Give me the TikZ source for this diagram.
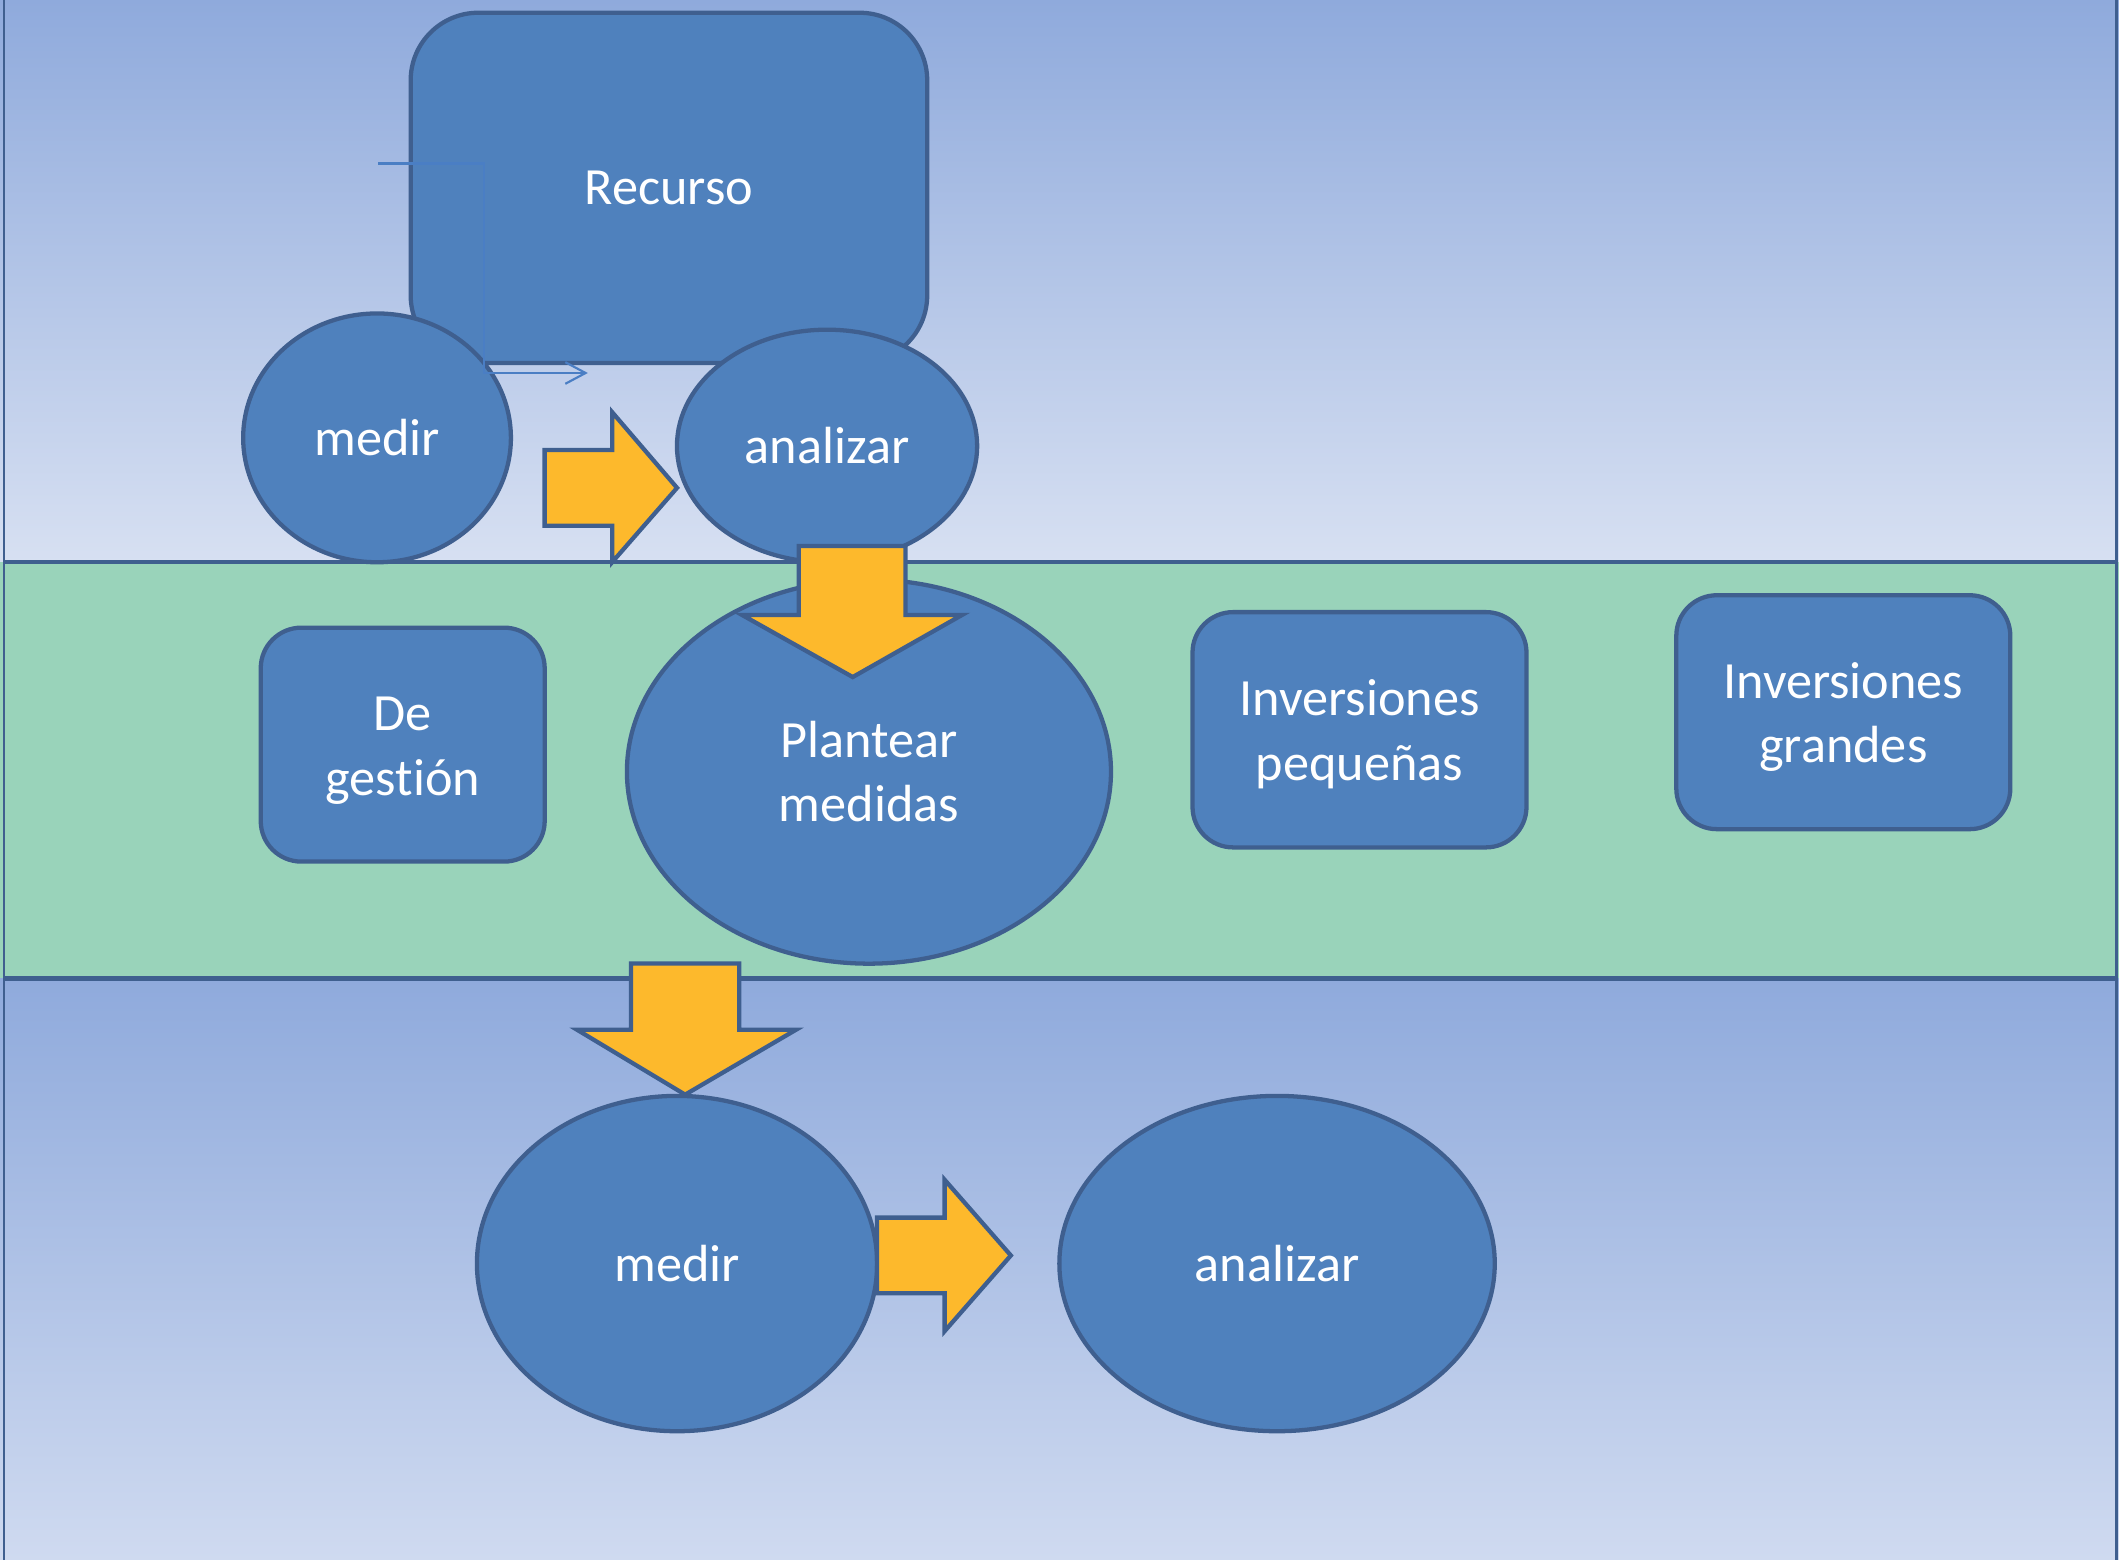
\documentclass[tikz,border=0pt]{standalone}
\usepackage{fontspec}
\setmainfont{Carlito}[Ligatures={NoCommon}]
\usetikzlibrary{shapes.geometric,arrows.meta}
\definecolor{azul}{HTML}{4F81BD}
\definecolor{borde}{HTML}{3F5F8F}
\definecolor{amarillo}{HTML}{FDB92C}
\definecolor{verde}{HTML}{99D3BA}
\definecolor{cieloA}{HTML}{8FAADC}
\definecolor{cieloB}{HTML}{D7E0F2}
\definecolor{cieloC}{HTML}{CFDAF0}
\definecolor{conec}{HTML}{4A7EC4}
\begin{document}
\begin{tikzpicture}[x=0.01cm,y=-0.01cm,
    elipse/.style={ellipse,draw=borde,fill=azul,line width=0.9pt,inner sep=0pt,
        text=white,align=center,font=\fontsize{11}{13.6}\selectfont},
    caja/.style={rectangle,rounded corners=0.3cm,draw=borde,fill=azul,line width=0.9pt,
        inner sep=0pt,text=white,align=center,font=\fontsize{11}{13.6}\selectfont},
    flecha/.style={draw=borde,fill=amarillo,line width=0.9pt,line join=miter},
    linea/.style={draw=borde,line width=0.9pt}]
    \useasboundingbox (0,0) rectangle (1568,1154);
    \shade[top color=cieloA,bottom color=cieloB] (0,0) rectangle (1568,416);
    \fill[verde] (0,416) rectangle (1568,724);
    \shade[top color=cieloA,bottom color=cieloC] (0,724) rectangle (1568,1154);
    \draw[linea] (3,416) -- (1566,416);
    \draw[linea] (3,724) -- (1566,724);
    \draw[borde,line width=0.6pt] (3,0) -- (3,1154);
    \draw[borde,line width=0.6pt] (1566,0) -- (1566,1154);

    \node[caja,rounded corners=0.5cm,minimum width=3.82cm,minimum height=2.59cm] (recurso) at (495,139) {Recurso};
    \node[elipse,minimum width=1.98cm,minimum height=1.84cm] (medir) at (279,324) {medir};
    \node[elipse,minimum width=2.22cm,minimum height=1.72cm] (analizar) at (612,330) {analizar};

    \coordinate (ini) at (280,121);
    \coordinate (fin) at (435,276);
    \draw[conec,line width=0.45pt,-{Straight Barb[length=1.5mm,width=1.6mm]}] (ini) -- ++(78,0) |- (fin);

    \filldraw[flecha] (403,333) -- (453,333) -- (453,305) -- (501,361) -- (453,416) -- (453,389) -- (403,389) -- cycle;

    \node[elipse,minimum width=3.58cm,minimum height=2.84cm] (plantear) at (643,571) {Plantear\\medidas};
    \filldraw[flecha] (591,404) -- (670,404) -- (670,455) -- (712,455) -- (631,501) -- (549,455) -- (591,455) -- cycle;

    \node[caja,minimum width=2.10cm,minimum height=1.73cm] (gestion) at (298,551) {\strut De\\gestión};
    \node[caja,minimum width=2.47cm,minimum height=1.74cm] (pequenas) at (1006,540) {\strut Inversiones\\pequeñas};
    \node[caja,minimum width=2.47cm,minimum height=1.73cm] (grandes) at (1364,527) {\strut Inversiones\\grandes};

    \filldraw[flecha] (467,713) -- (547,713) -- (547,762) -- (589,762) -- (507,810) -- (427,762) -- (467,762) -- cycle;
    \node[elipse,minimum width=2.96cm,minimum height=2.48cm] (medirB) at (501,935) {medir};
    \filldraw[flecha] (649,901) -- (699,901) -- (699,873) -- (748,929) -- (699,985) -- (699,957) -- (649,957) -- cycle;
    \node[elipse,minimum width=3.22cm,minimum height=2.48cm] (analizarB) at (945,935) {analizar};
\end{tikzpicture}
\end{document}
